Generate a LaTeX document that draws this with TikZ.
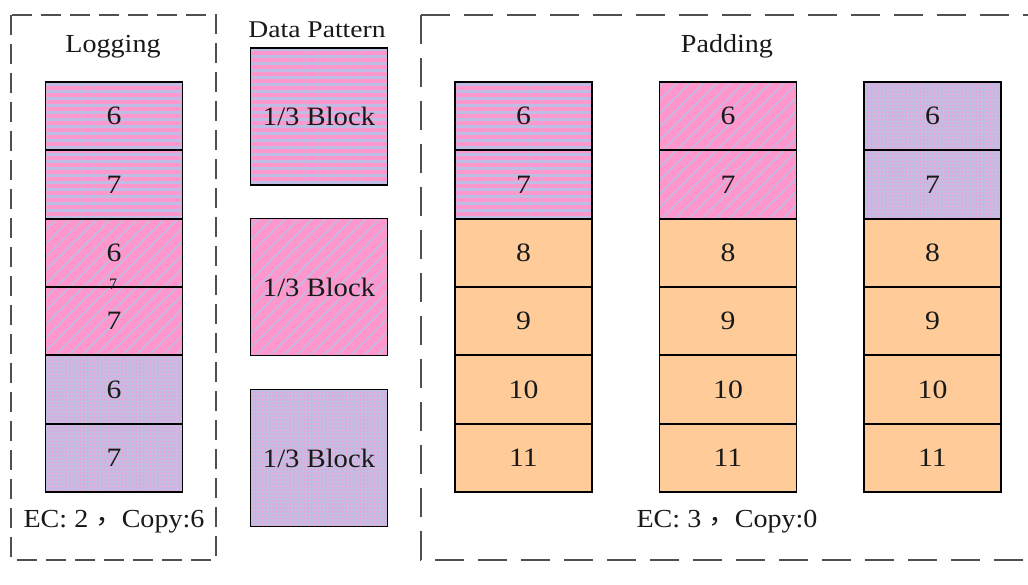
\documentclass[tikz,border=0pt]{standalone}
\usepackage{fontspec}
\setmainfont{Liberation Serif}
\newfontfamily\cjk{Noto Sans CJK SC}
\usetikzlibrary{patterns.meta}
\definecolor{pinkc}{RGB}{255,150,204}
\definecolor{lavc}{RGB}{190,190,228}
\definecolor{lavd}{RGB}{196,188,226}
\definecolor{orangec}{RGB}{255,204,153}
\definecolor{dashc}{RGB}{80,80,80}
\definecolor{txtc}{RGB}{25,25,25}
\newcommand{\sx}[1]{\scalebox{1.08}[1]{#1}}
\newcommand{\nm}[1]{\scalebox{1.12}[1]{#1}}
\newcommand{\zcomma}{\hspace{7pt}\raisebox{4pt}{\cjk ，}\hspace{-2pt}}
\begin{document}
\begin{tikzpicture}[x=1pt,y=-1pt,
 cell/.style={draw=black, line width=1.8pt, minimum width=137pt, minimum height=68.33pt, inner sep=0pt, font=\fontsize{26.5}{30}\selectfont, text=txtc},
 sq/.style={cell, minimum height=137pt},
 stripe/.style={preaction={fill=lavc}, pattern={Lines[angle=0,distance=7pt,line width=3.5pt]}, pattern color=pinkc},
 hatch/.style={preaction={fill=pinkc}, pattern={Lines[angle=45,distance=9.5pt,line width=1.5pt]}, pattern color=lavc},
 dotty/.style={preaction={fill=lavd}, pattern={Dots[distance=3.5pt,radius=0.9pt]}, pattern color=pinkc!85!lavd},
 pad/.style={fill=orangec},
 lbl/.style={font=\fontsize{26}{30}\selectfont, text=txtc, inner sep=0pt},
 frameL/.style={draw=dashc, line width=2.8pt, dash pattern=on 20pt off 9pt},
 frameR/.style={draw=dashc, line width=2.8pt, dash pattern=on 29pt off 14pt}]
\useasboundingbox (0,0) rectangle (1028,585);
% frames
\draw[frameL] (11,15) rectangle (216,560);
\draw[frameR] (421,15) -- (1045,15);
\draw[frameR] (421,15) -- (421,560) -- (1045,560);
% titles
\node[lbl] (tlog) at (113,47) {\sx{Logging}};
\node[lbl, font=\fontsize{24}{28}\selectfont] (tdat) at (317,30) {\scalebox{1.15}[1]{Data Pattern}};
\node[lbl] (tpad) at (727,46) {\sx{Padding}};
\node[lbl] (ecl) at (114,522) {\sx{EC: 2\zcomma Copy:6}};
\node[lbl] (ecr) at (727,522) {\sx{EC: 3\zcomma Copy:0}};
% logging column
\node[cell, stripe] (L1) at (114,116.2) {\nm{6}};
\node[cell, stripe] (L2) at (114,184.5) {\nm{7}};
\node[cell, hatch]  (L3) at (114,252.8) {\nm{6}};
\node[cell, hatch]  (L4) at (114,321.2) {\nm{7}};
\node[cell, dotty]  (L5) at (114,389.5) {\nm{6}};
\node[cell, dotty]  (L6) at (114,457.8) {\nm{7}};
\node[lbl, font=\fontsize{16}{18}\selectfont] (small7) at (113,284) {7};
% data pattern
\node[sq, stripe] (D1) at (319,116.5) {\sx{1/3 Block}};
\node[sq, hatch]  (D2) at (319,287) {\sx{1/3 Block}};
\node[sq, dotty]  (D3) at (319,458) {\sx{1/3 Block}};
% padding columns
\node[cell, stripe] (A1) at (523.5,116.2) {\nm{6}};
\node[cell, stripe] (A2) at (523.5,184.5) {\nm{7}};
\node[cell, pad] (A3) at (523.5,252.8) {\nm{8}};
\node[cell, pad] (A4) at (523.5,321.2) {\nm{9}};
\node[cell, pad] (A5) at (523.5,389.5) {\nm{10}};
\node[cell, pad] (A6) at (523.5,457.8) {\nm{11}};
\node[cell, hatch] (B1) at (728,116.2) {\nm{6}};
\node[cell, hatch] (B2) at (728,184.5) {\nm{7}};
\node[cell, pad] (B3) at (728,252.8) {\nm{8}};
\node[cell, pad] (B4) at (728,321.2) {\nm{9}};
\node[cell, pad] (B5) at (728,389.5) {\nm{10}};
\node[cell, pad] (B6) at (728,457.8) {\nm{11}};
\node[cell, dotty] (C1) at (932.5,116.2) {\nm{6}};
\node[cell, dotty] (C2) at (932.5,184.5) {\nm{7}};
\node[cell, pad] (C3) at (932.5,252.8) {\nm{8}};
\node[cell, pad] (C4) at (932.5,321.2) {\nm{9}};
\node[cell, pad] (C5) at (932.5,389.5) {\nm{10}};
\node[cell, pad] (C6) at (932.5,457.8) {\nm{11}};
\end{tikzpicture}
\end{document}
